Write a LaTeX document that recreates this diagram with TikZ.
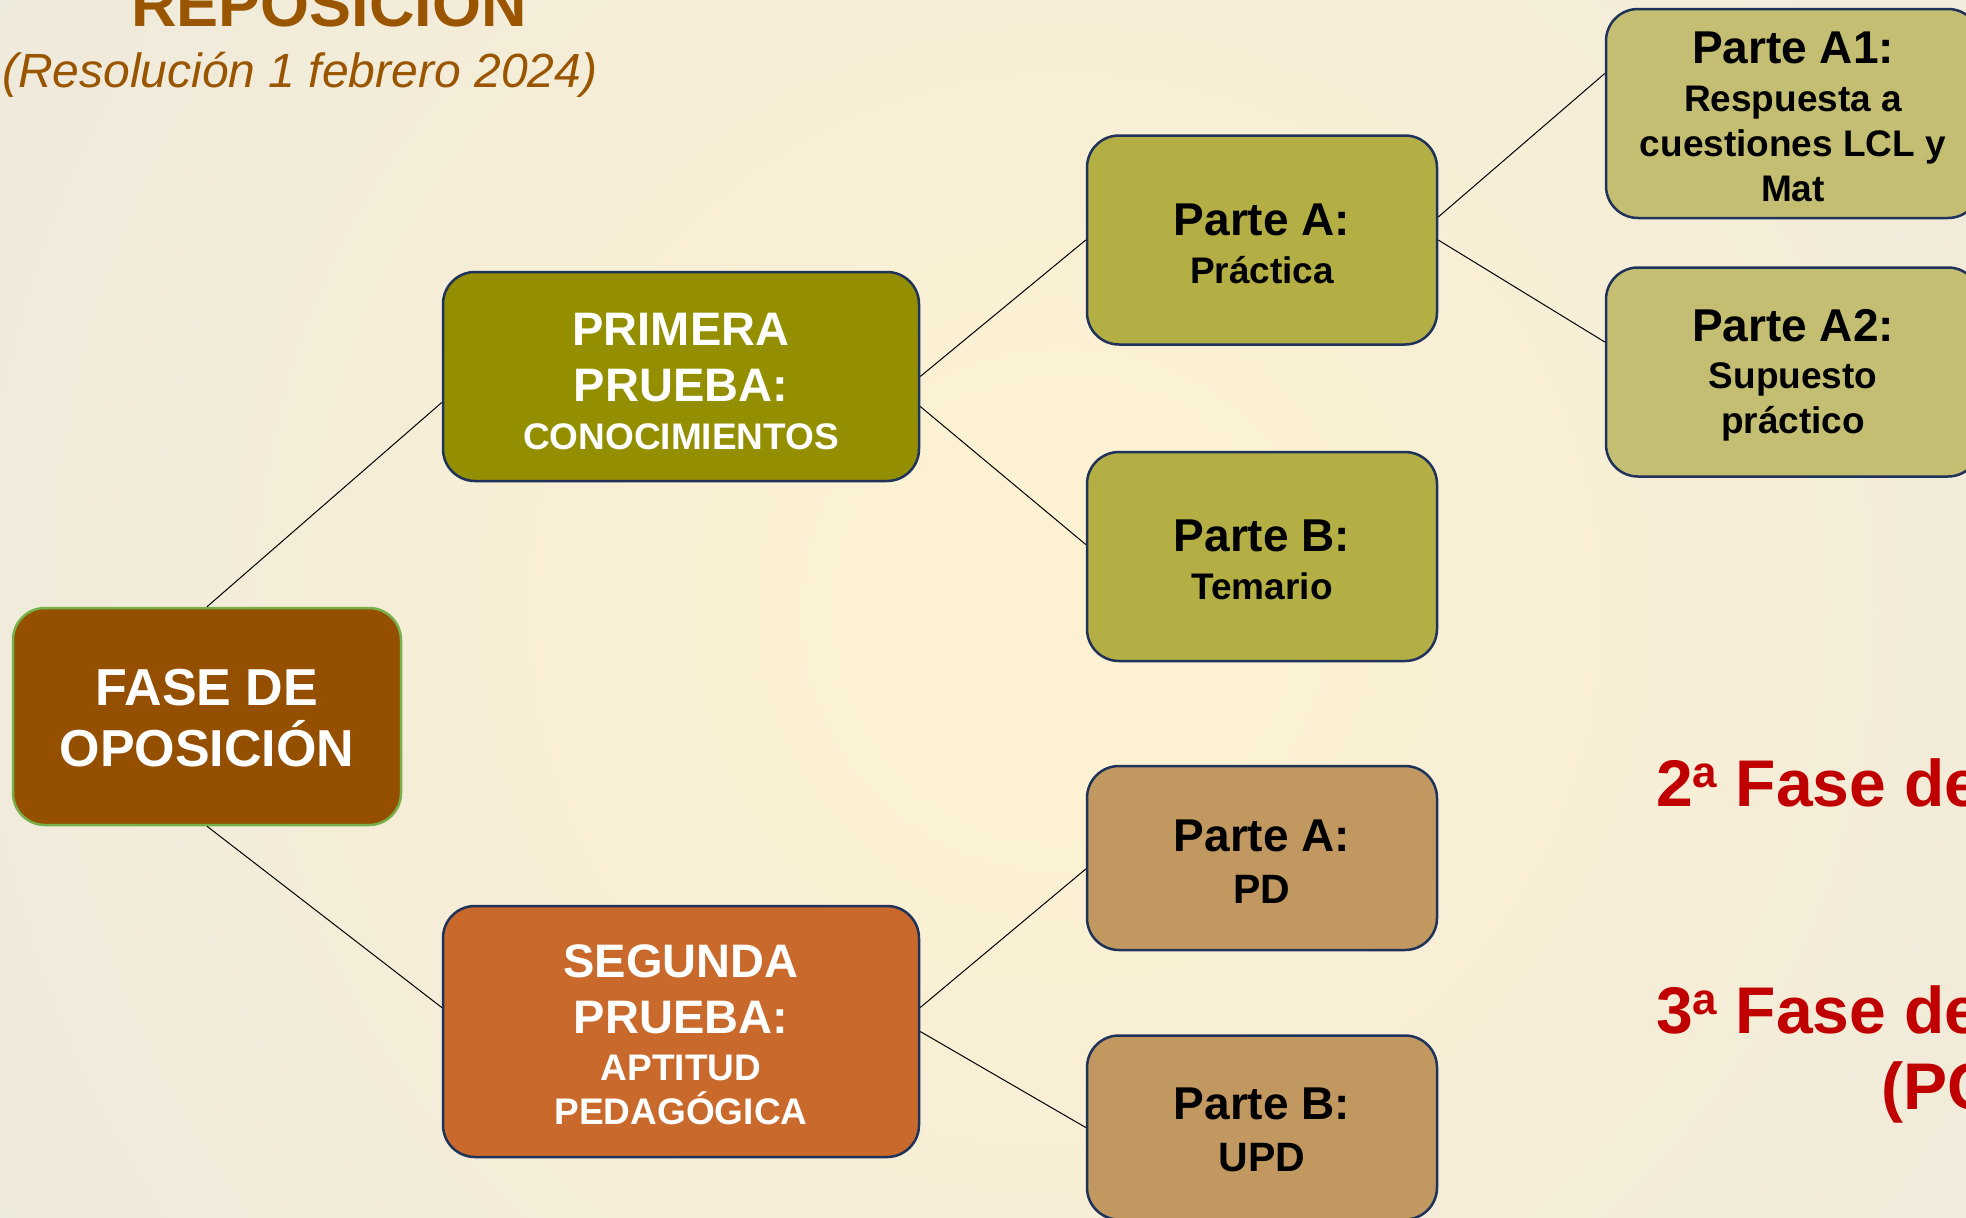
\documentclass[tikz,border=0pt]{standalone}
\usepackage{fontspec}
\setmainfont{Liberation Sans}
\usetikzlibrary{positioning}

\definecolor{rootfill}{RGB}{148,79,0}
\definecolor{rootline}{RGB}{118,176,74}
\definecolor{navyline}{RGB}{31,50,90}
\definecolor{firstfill}{RGB}{147,143,0}
\definecolor{secondfill}{RGB}{201,106,44}
\definecolor{partfill}{RGB}{179,175,69}
\definecolor{updfill}{RGB}{193,152,96}
\definecolor{subfill}{RGB}{195,190,114}
\definecolor{titlebrown}{RGB}{153,85,0}
\definecolor{phasered}{RGB}{192,0,0}

\pgfdeclareradialshading{bgglow}{\pgfpoint{0bp}{0bp}}{rgb(0bp)=(0.988,0.945,0.827);rgb(4bp)=(0.988,0.945,0.827);rgb(34bp)=(0.91,0.902,0.882);rgb(50bp)=(0.91,0.902,0.882)}

\newcommand\SubLine{\fontsize{37}{44}\selectfont}
\newcommand\OrdA{\raisebox{19pt}{\fontsize{44}{44}\selectfont a}}
\newcommand\TopStrut[1]{\rule{0pt}{#1pt}}

\begin{document}
\begin{tikzpicture}[x=1pt, y=-1pt, node distance=105pt]
        \useasboundingbox (0,0) rectangle (1966,1218);
        \clip (0,0) rectangle (1966,1218);
        \shade[shading=bgglow] (-185,-640) rectangle (2315,1860);
        \tikzset{BoxStyle/.style = {draw=navyline, line width=2.5pt,
            rounded corners=32pt, align=center, inner sep=0pt},
          RootStyle/.style = {BoxStyle, draw=rootline, fill=rootfill,
            text=white, minimum width=388pt, minimum height=217pt,
            font=\bfseries\fontsize{52}{61}\selectfont},
          TestStyle/.style = {BoxStyle, text=white, minimum width=476pt,
            font=\bfseries\fontsize{47}{56}\selectfont},
          PartStyle/.style = {BoxStyle, fill=partfill, minimum width=350pt,
            minimum height=209pt, font=\bfseries\fontsize{46}{45}\selectfont},
          LinkStyle/.style = {black, line width=1pt},
          PhaseStyle/.style = {text=phasered, inner sep=0pt, anchor=base west,
            font=\bfseries\fontsize{66}{76}\selectfont}}
        % titulo
        \node[anchor=base west, inner sep=0pt, text=titlebrown,
          font=\bfseries\fontsize{63}{70}\selectfont] (TIT) at (131,26) {REPOSICIÓN};
        \node[anchor=base west, inner sep=0pt, text=titlebrown,
          font=\itshape\fontsize{48}{55}\selectfont] (RES) at (2,87) {(Resolución 1 febrero 2024)};
        % cajas
        \node[RootStyle] (FO) at (207,716.5) {\TopStrut{40}FASE DE\\OPOSICIÓN};
        \node[TestStyle, fill=firstfill, minimum height=209pt] (P1) at (681,376.5)
          {\TopStrut{42}PRIMERA\\PRUEBA:\\[-8pt]{\SubLine CONOCIMIENTOS}};
        \node[TestStyle, fill=secondfill, minimum height=251pt] (P2) at (681,1031.5)
          {\TopStrut{40}SEGUNDA\\PRUEBA:\\[-9pt]{\SubLine APTITUD}\\[-12pt]{\SubLine PEDAGÓGICA}};
        \node[PartStyle] (PA) at (1262,240) {\TopStrut{39}Parte A:\\[3pt]{\SubLine Práctica}};
        \node[PartStyle, below=of PA] (PB) {\TopStrut{39}Parte B:\\[3pt]{\SubLine Temario}};
        \node[PartStyle, fill=updfill, minimum height=184pt] (PD) at (1262,858)
          {\TopStrut{38}Parte A:\\[7pt]{\fontsize{41}{44}\selectfont PD}};
        \node[PartStyle, fill=updfill, minimum height=184pt, below=83pt of PD] (UPD)
          {\TopStrut{36}Parte B:\\[7pt]{\fontsize{41}{44}\selectfont UPD}};
        \node[PartStyle, fill=subfill, minimum width=374pt] (A1) at (1793,113.5)
          {\TopStrut{38}Parte A1:\\[3pt]{\SubLine Respuesta a}\\[0pt]{\SubLine cuestiones LCL y}\\[0pt]{\SubLine Mat}};
        \node[PartStyle, fill=subfill, minimum width=374pt, below=47pt of A1] (A2)
          {\TopStrut{38}Parte A2:\\[2pt]{\SubLine Supuesto}\\[0pt]{\SubLine práctico}};
        % fases
        \node[PhaseStyle] (F2) at (1656,806) {2\OrdA{} Fase de};
        \node[PhaseStyle] (F3) at (1656,1033) {3\OrdA{} Fase de};
        \node[PhaseStyle] (PC) at (1881,1109) {(PC};
        % lineas
        \draw[LinkStyle] (FO.north) -- ([yshift=-26pt]P1.west);
        \draw[LinkStyle] (FO.south) -- ([yshift=24pt]P2.west);
        \draw[LinkStyle] (P1.east) -- (PA.west);
        \draw[LinkStyle] ([yshift=-30pt]P1.east) -- ([yshift=12pt]PB.west);
        \draw[LinkStyle] ([yshift=23pt]PA.east) -- ([yshift=40pt]A1.west);
        \draw[LinkStyle] (PA.east) -- ([yshift=30pt]A2.west);
        \draw[LinkStyle] ([yshift=24pt]P2.east) -- ([yshift=-11pt]PD.west);
        \draw[LinkStyle] (P2.east) -- (UPD.west);
      \end{tikzpicture}
\end{document}
